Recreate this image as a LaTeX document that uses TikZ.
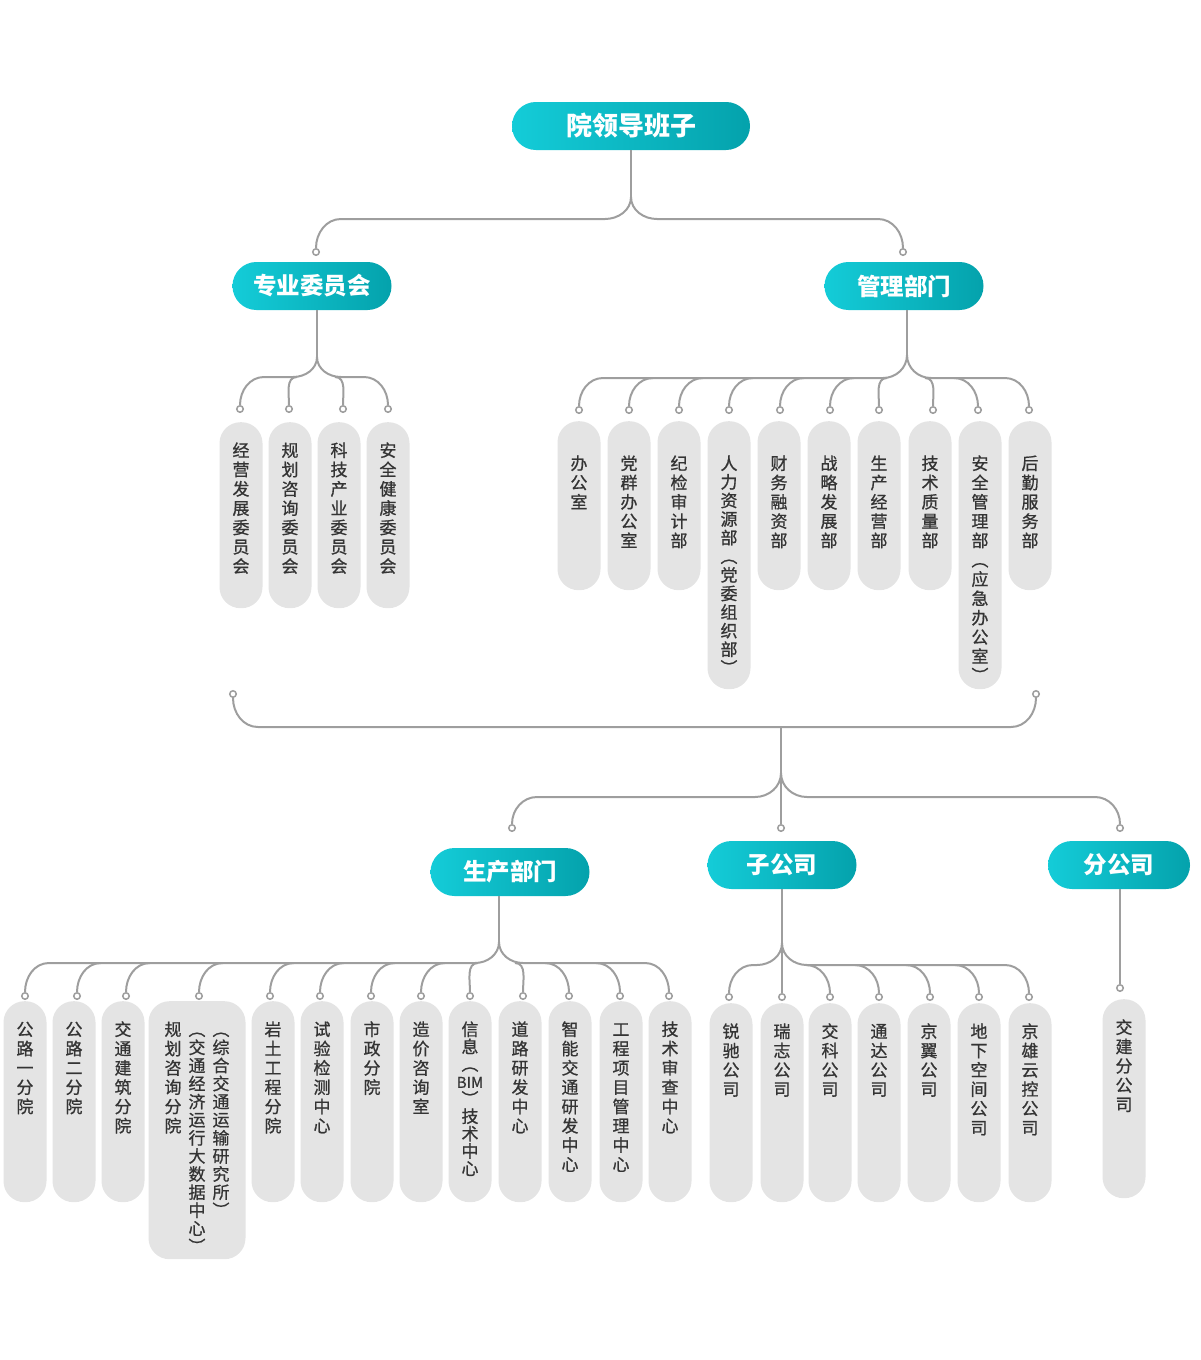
\documentclass[tikz,border=0pt]{standalone}
\usepackage{fontspec}
\newfontfamily\cjk{Noto Sans CJK SC}
\newfontfamily\cjkmid[FakeBold=0.8]{Noto Sans CJK SC}
\usepackage{xcolor}
\definecolor{headcyan}{RGB}{20, 204, 216}
\definecolor{headteal}{RGB}{4, 162, 172}
\definecolor{linegray}{RGB}{158, 158, 158}
\definecolor{pillgray}{RGB}{228, 228, 228}
\definecolor{textgray}{RGB}{52, 52, 52}
\usepackage{tikz}
\usetikzlibrary{positioning, calc}

% vertical text: one character per line
\newcommand\vstackstep[1]{\ifx\relax#1\relax\else\hbox to\hsize{\vrule height15pt depth3pt width0pt\hss#1\hss}\expandafter\vstackstep\fi}
\newcommand\vcol[2][19.3pt]{\vtop{\hsize=24pt\baselineskip=#1\lineskiplimit=-100pt\vstackstep#2\relax}}
\def\toppad{19.5pt}
\newcommand\vtext[3][19.3pt]{\vbox to #2pt{\hsize=43pt\vskip\toppad\hbox to\hsize{\hss\vcol[#1]{#3}\hss}\vfil}}
\newcommand\bimtag{{\fontsize{15}{15}\selectfont BIM}}

\begin{document}
\begin{tikzpicture}[x=1pt, y=1pt,
    head/.style={rounded corners=23.9pt, left color=headcyan, right color=headteal, text=white,
        font=\cjk\bfseries\fontsize{23.5}{23.5}\selectfont, minimum height=48pt, inner sep=0pt},
    pill/.style={fill=pillgray, rounded corners=21pt, inner sep=0pt, anchor=north, minimum width=43pt,
        text=textgray, font=\cjkmid\fontsize{17}{19}\selectfont},
    dot/.style={circle, draw=linegray, fill=white, line width=1.5pt, inner sep=0pt, minimum size=6.5pt},
    link/.style={draw=linegray, line width=2pt}]
    \useasboundingbox (0,0) rectangle (1200,-1360);

    \node[head, minimum width=238pt, font=\cjk\bfseries\fontsize{26}{26}\selectfont] (lead) at (631,-126) {院领导班子};
    \node[head, minimum width=159pt] (zywh) at (312,-286) {专业委员会};
    \node[head, minimum width=159pt] (glbm) at (904,-286) {管理部门};
    \node[dot] (zywhd) at (316,-252) {};
    \node[dot] (glbmd) at (903,-252) {};
    \coordinate (leadfork) at (631,-197);
    \coordinate (leadbar) at (0,-219);
    \draw[link] (lead.south) -- (leadfork);
    \draw[link] (leadfork) to[out=-90,in=0] ++(-26,-22) -- ($(zywhd.north |- leadbar)+(25,0)$) to[out=180,in=90] (zywhd.north);
    \draw[link] (leadfork) to[out=-90,in=180] ++(26,-22) -- ($(glbmd.north |- leadbar)+(-25,0)$) to[out=0,in=90] (glbmd.north);

    \node[pill] (zy1) at (241,-422) {\vtext{186}{经营发展委员会}};
    \node[pill] (zy2) at (290,-422) {\vtext{186}{规划咨询委员会}};
    \node[pill] (zy3) at (339,-422) {\vtext{186}{科技产业委员会}};
    \node[pill] (zy4) at (388,-422) {\vtext{186}{安全健康委员会}};
    \node[dot] (zy1d) at (240,-409) {};
    \node[dot] (zy2d) at (289,-409) {};
    \node[dot] (zy3d) at (343,-409) {};
    \node[dot] (zy4d) at (388,-409) {};
    \coordinate (zyfork) at (317,-357);
    \coordinate (zybar) at (0,-377);
    \draw[link] (zyfork |- zywh.south) -- (zyfork);
    \draw[link] (zyfork) to[out=-90,in=0] ++(-24,-20) -- ($(zy1d.north |- zybar)+(24,0)$) to[out=180,in=90] (zy1d.north);
    \draw[link] ($(zy2d.north |- zybar)+(8,0)$) to[out=180,in=90] (zy2d.north);
    \draw[link] ($(zy3d.north |- zybar)+(-8,0)$) to[out=0,in=90] (zy3d.north);
    \draw[link] (zyfork) to[out=-90,in=180] ++(24,-20) -- ($(zy4d.north |- zybar)+(-24,0)$) to[out=0,in=90] (zy4d.north);

    \begin{scope}
    \def\toppad{33.5pt}
    \node[pill] (gl1) at (579,-421) {\vtext{169}{办公室}};
    \node[pill] (gl2) at (629,-421) {\vtext{169}{党群办公室}};
    \node[pill] (gl3) at (679,-421) {\vtext{169}{纪检审计部}};
    \node[pill] (gl4) at (729,-421) {\vtext[18.6pt]{268}{人力资源部︵党委组织部︶}};
    \node[pill] (gl5) at (779,-421) {\vtext{169}{财务融资部}};
    \node[pill] (gl6) at (829,-421) {\vtext{169}{战略发展部}};
    \node[pill] (gl7) at (879,-421) {\vtext{169}{生产经营部}};
    \node[pill] (gl8) at (930,-421) {\vtext{169}{技术质量部}};
    \node[pill] (gl9) at (980,-421) {\vtext{268}{安全管理部︵应急办公室︶}};
    \node[pill] (gl10) at (1030,-421) {\vtext{169}{后勤服务部}};
    \end{scope}
    \node[dot] (gl1d) at (579,-410) {};
    \node[dot] (gl2d) at (629,-410) {};
    \node[dot] (gl3d) at (679,-410) {};
    \node[dot] (gl4d) at (729,-410) {};
    \node[dot] (gl5d) at (780,-410) {};
    \node[dot] (gl6d) at (830,-410) {};
    \node[dot] (gl7d) at (879,-410) {};
    \node[dot] (gl8d) at (933,-410) {};
    \node[dot] (gl9d) at (978,-410) {};
    \node[dot] (gl10d) at (1029,-410) {};
    \coordinate (glfork) at (907,-355);
    \coordinate (glbar) at (0,-378);
    \draw[link] (glfork |- glbm.south) -- (glfork);
    \draw[link] (glfork) to[out=-90,in=0] ++(-24,-23) -- ($(gl1d.north |- glbar)+(24,0)$) to[out=180,in=90] (gl1d.north);
    \draw[link] ($(gl2d.north |- glbar)+(24,0)$) to[out=180,in=90] (gl2d.north);
    \draw[link] ($(gl3d.north |- glbar)+(24,0)$) to[out=180,in=90] (gl3d.north);
    \draw[link] ($(gl4d.north |- glbar)+(24,0)$) to[out=180,in=90] (gl4d.north);
    \draw[link] ($(gl5d.north |- glbar)+(24,0)$) to[out=180,in=90] (gl5d.north);
    \draw[link] ($(gl6d.north |- glbar)+(24,0)$) to[out=180,in=90] (gl6d.north);
    \draw[link] ($(gl7d.north |- glbar)+(8,0)$) to[out=180,in=90] (gl7d.north);
    \draw[link] ($(gl8d.north |- glbar)+(-8,0)$) to[out=0,in=90] (gl8d.north);
    \draw[link] ($(gl9d.north |- glbar)+(-24,0)$) to[out=0,in=90] (gl9d.north);
    \draw[link] (glfork) to[out=-90,in=180] ++(24,-23) -- ($(gl10d.north |- glbar)+(-24,0)$) to[out=0,in=90] (gl10d.north);

    \node[dot] (brl) at (233,-694) {};
    \node[dot] (brr) at (1036,-694) {};
    \coordinate (brbar) at (0,-727);
    \coordinate (brmid) at (781,-727);
    \draw[link] (brl.south) to[out=-90,in=180] ($(brl.south |- brbar)+(25,0)$) -- ($(brr.south |- brbar)+(-25,0)$) to[out=0,in=-90] (brr.south);

    \node[head, minimum width=159pt] (scbm) at (510,-872) {生产部门};
    \node[head, minimum width=149pt] (zgs) at (782,-865) {子公司};
    \node[head, minimum width=142pt] (fgs) at (1119,-865) {分公司};
    \node[dot] (scbmd) at (512,-828) {};
    \node[dot] (zgsd) at (781,-828) {};
    \node[dot] (fgsd) at (1120,-828) {};
    \coordinate (lowfork) at (781,-773);
    \coordinate (lowbar) at (0,-797);
    \draw[link] (brmid) -- (lowfork) -- (zgsd.north);
    \draw[link] (lowfork) to[out=-90,in=0] ++(-26,-24) -- ($(scbmd.north |- lowbar)+(25,0)$) to[out=180,in=90] (scbmd.north);
    \draw[link] (lowfork) to[out=-90,in=180] ++(26,-24) -- ($(fgsd.north |- lowbar)+(-25,0)$) to[out=0,in=90] (fgsd.north);

    \node[pill] (sc1) at (25,-1001) {\vtext{201}{公路一分院}};
    \node[pill] (sc2) at (74,-1001) {\vtext{201}{公路二分院}};
    \node[pill] (sc3) at (123,-1001) {\vtext{201}{交通建筑分院}};
    \node[pill] (sc4) at (197,-1001) {\vbox to 258pt{\hsize=97pt\vskip\toppad\hbox to\hsize{\hss\vcol{规划咨询分院}\vcol[18.1pt]{︵交通经济运行大数据中心︶}\vcol[18.1pt]{︵综合交通运输研究所︶}\hss}\vfil}};
    \node[pill] (sc5) at (273,-1001) {\vtext{201}{岩土工程分院}};
    \node[pill] (sc6) at (322,-1001) {\vtext{201}{试验检测中心}};
    \node[pill] (sc7) at (372,-1001) {\vtext{201}{市政分院}};
    \node[pill] (sc8) at (421,-1001) {\vtext{201}{造价咨询室}};
    \node[pill] (sc9) at (470,-1001) {\vtext[17.4pt]{201}{信息︵{\bimtag}︶技术中心}};
    \node[pill] (sc10) at (520,-1001) {\vtext{201}{道路研发中心}};
    \node[pill] (sc11) at (570,-1001) {\vtext{201}{智能交通研发中心}};
    \node[pill] (sc12) at (621,-1001) {\vtext{201}{工程项目管理中心}};
    \node[pill] (sc13) at (670,-1001) {\vtext{201}{技术审查中心}};
    \node[dot] (sc1d) at (25,-996) {};
    \node[dot] (sc2d) at (77,-996) {};
    \node[dot] (sc3d) at (126,-996) {};
    \node[dot] (sc4d) at (199,-996) {};
    \node[dot] (sc5d) at (270,-996) {};
    \node[dot] (sc6d) at (320,-996) {};
    \node[dot] (sc7d) at (371,-996) {};
    \node[dot] (sc8d) at (421,-996) {};
    \node[dot] (sc9d) at (470,-996) {};
    \node[dot] (sc10d) at (523,-996) {};
    \node[dot] (sc11d) at (569,-996) {};
    \node[dot] (sc12d) at (620,-996) {};
    \node[dot] (sc13d) at (669,-996) {};
    \coordinate (scfork) at (499,-942);
    \coordinate (scbar) at (0,-963);
    \draw[link] (scfork |- scbm.south) -- (scfork);
    \draw[link] (scfork) to[out=-90,in=0] ++(-24,-21) -- ($(sc1d.north |- scbar)+(24,0)$) to[out=180,in=90] (sc1d.north);
    \draw[link] ($(sc2d.north |- scbar)+(24,0)$) to[out=180,in=90] (sc2d.north);
    \draw[link] ($(sc3d.north |- scbar)+(24,0)$) to[out=180,in=90] (sc3d.north);
    \draw[link] ($(sc4d.north |- scbar)+(24,0)$) to[out=180,in=90] (sc4d.north);
    \draw[link] ($(sc5d.north |- scbar)+(24,0)$) to[out=180,in=90] (sc5d.north);
    \draw[link] ($(sc6d.north |- scbar)+(24,0)$) to[out=180,in=90] (sc6d.north);
    \draw[link] ($(sc7d.north |- scbar)+(24,0)$) to[out=180,in=90] (sc7d.north);
    \draw[link] ($(sc8d.north |- scbar)+(24,0)$) to[out=180,in=90] (sc8d.north);
    \draw[link] ($(sc9d.north |- scbar)+(8,0)$) to[out=180,in=90] (sc9d.north);
    \draw[link] ($(sc10d.north |- scbar)+(-8,0)$) to[out=0,in=90] (sc10d.north);
    \draw[link] ($(sc11d.north |- scbar)+(-24,0)$) to[out=0,in=90] (sc11d.north);
    \draw[link] ($(sc12d.north |- scbar)+(-24,0)$) to[out=0,in=90] (sc12d.north);
    \draw[link] (scfork) to[out=-90,in=180] ++(24,-21) -- ($(sc13d.north |- scbar)+(-24,0)$) to[out=0,in=90] (sc13d.north);

    \node[pill] (zg1) at (731,-1003) {\vtext{199}{锐驰公司}};
    \node[pill] (zg2) at (782,-1003) {\vtext{199}{瑞志公司}};
    \node[pill] (zg3) at (830,-1003) {\vtext{199}{交科公司}};
    \node[pill] (zg4) at (879,-1003) {\vtext{199}{通达公司}};
    \node[pill] (zg5) at (929,-1003) {\vtext{199}{京翼公司}};
    \node[pill] (zg6) at (979,-1003) {\vtext{199}{地下空间公司}};
    \node[pill] (zg7) at (1030,-1003) {\vtext{199}{京雄云控公司}};
    \node[dot] (zg1d) at (729,-997) {};
    \node[dot] (zg2d) at (782,-997) {};
    \node[dot] (zg3d) at (830,-997) {};
    \node[dot] (zg4d) at (879,-997) {};
    \node[dot] (zg5d) at (930,-997) {};
    \node[dot] (zg6d) at (979,-997) {};
    \node[dot] (zg7d) at (1029,-997) {};
    \coordinate (zgfork) at (782,-943);
    \coordinate (zgbar) at (0,-965);
    \draw[link] (zgfork |- zgs.south) -- (zgfork) -- (zg2d.north);
    \draw[link] (zgfork) to[out=-90,in=0] ++(-25,-22) -- ($(zg1d.north |- zgbar)+(24,0)$) to[out=180,in=90] (zg1d.north);
    \draw[link] ($(zg3d.north |- zgbar)+(-24,0)$) to[out=0,in=90] (zg3d.north);
    \draw[link] ($(zg4d.north |- zgbar)+(-24,0)$) to[out=0,in=90] (zg4d.north);
    \draw[link] ($(zg5d.north |- zgbar)+(-24,0)$) to[out=0,in=90] (zg5d.north);
    \draw[link] ($(zg6d.north |- zgbar)+(-24,0)$) to[out=0,in=90] (zg6d.north);
    \draw[link] (zgfork) to[out=-90,in=180] ++(25,-22) -- ($(zg7d.north |- zgbar)+(-24,0)$) to[out=0,in=90] (zg7d.north);

    \node[pill] (fg1) at (1124,-999) {\vtext{199}{交建分公司}};
    \node[dot] (fg1d) at (1120,-988) {};
    \draw[link] (fgs.south -| fg1d) -- (fg1d.north);
\end{tikzpicture}
\end{document}
